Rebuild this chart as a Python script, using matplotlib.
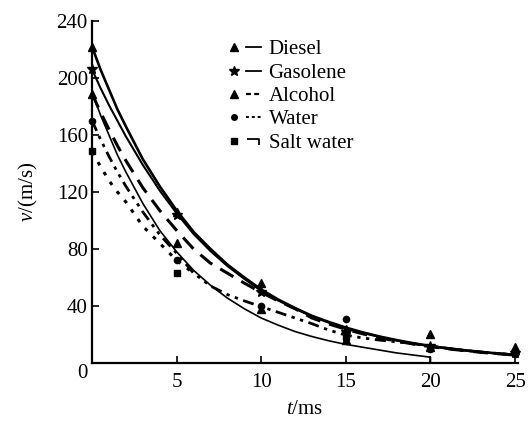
import matplotlib
matplotlib.use("Agg")
import matplotlib.pyplot as plt
import matplotlib.transforms as mtransforms
from matplotlib.lines import Line2D
from matplotlib.path import Path
from matplotlib.legend_handler import HandlerTuple

plt.rcParams["font.family"] = ["Liberation Serif", "DejaVu Serif"]
plt.rcParams["mathtext.fontset"] = "custom"
plt.rcParams["mathtext.it"] = "Liberation Serif:italic"
plt.rcParams["mathtext.rm"] = "Liberation Serif"

# time grid (ms) for the fitted curves
t = [0, 0.5, 1, 1.5, 2, 3, 4, 5, 6, 7, 8, 9, 10, 11, 12, 13, 14, 15,
     16, 17, 18, 19, 20, 21, 22, 23, 24, 25]

diesel = [222, 206, 192, 178, 166, 143, 124, 107, 92, 80, 69, 60, 51.5, 44.5,
          38.5, 33, 28.7, 24.8, 21.4, 18.5, 16, 13.8, 11.9, 10.3, 8.9, 7.7, 6.6, 5.7]
gasolene = [206, 193, 181, 170, 159, 139, 121, 105, 90.5, 78.5, 68, 59, 50.5, 43.8,
            38, 32.6, 28.2, 24.3, 21, 18.2, 15.7, 13.6, 11.7, 10.1, 8.7, 7.5, 6.5, 5.6]
alcohol = [189, 176, 164, 152.5, 142, 123, 107, 93, 80, 70, 63, 56, 49.5, 43.5,
           38, 31.5, 27.3, 23.6, 20.4, 17.6, 15.3, 13.2, 11.4, 9.9, 8.6, 7.4, 6.4, 5.5]
water = [170, 157, 145, 134, 124, 106, 90, 77, 63, 54, 48, 43.5, 39.5, 35.5,
         31.5, 27.5, 23, 19.5, 17.5, 16, 14.8, 13.4, 11.8, 10.2, 8.8, 7.6, 6.6, 5.7]

# salt water: dotted part that runs into the water curve
salt_t = [0, 0.5, 1, 1.5, 2, 3, 4, 5, 6]
salt_v = [148, 138, 128, 120, 113, 96, 84, 72, 63]

# thin solid curve ending with a hook at 20 ms
hook_t = [0, 0.5, 1, 1.5, 2, 3, 4, 5, 6, 7, 8, 9, 10, 11, 12, 13, 14, 15,
          16, 17, 18, 19, 20, 20]
hook_v = [190, 174, 160, 146, 134, 112, 93, 78, 65, 54.5, 45.5, 38, 31.5, 26.5,
          22, 18.5, 15.5, 13, 11, 9, 7, 5.5, 4, 0]

# measured points
pt_t = [0, 5, 10, 15, 20, 25]
diesel_pts = [222, 106, 56, 24, 20, 11.5]
gasolene_pts = [206, 104, 50, 22, 12, 7]
alcohol_pts = [189, 84, 38, 16, 11, 9]
water_pts = [170, 72, 40, 31, 10, 6]
salt_pts_t = [0, 5, 15]
salt_pts = [149, 63, 18]

fig = plt.figure(figsize=(5.32, 4.21), dpi=100)
ax = fig.add_axes([0.173, 0.138, 0.80, 0.812])

k = dict(color="black")
ax.plot(t, diesel, lw=1.9, **k)
ax.plot(t, gasolene, lw=1.5, **k)
ax.plot(t, alcohol, lw=2.2, dashes=(5, 3), **k)
ax.plot(t, water, lw=2.0, dashes=(4, 2, 1.2, 2, 1.2, 2), **k)
ax.plot(salt_t, salt_v, lw=2.2, dashes=(1.2, 2.6), **k)
ax.plot(hook_t, hook_v, lw=1.2, **k)

mk = dict(color="black", ls="none", clip_on=False, zorder=5)
ax.plot(pt_t, diesel_pts, marker="^", ms=6, **mk)
ax.plot(pt_t, gasolene_pts, marker="*", ms=7, **mk)
ax.plot(pt_t, alcohol_pts, marker="^", ms=6, **mk)
ax.plot(pt_t, water_pts, marker="o", ms=4.5, **mk)
ax.plot(salt_pts_t, salt_pts, marker="s", ms=5, **mk)

ax.set_xlim(0, 25.15)
ax.set_ylim(0, 240)
ax.set_xticks([5, 10, 15, 20, 25])
ax.set_yticks([0, 40, 80, 120, 160, 200, 240])
for s in ["top", "right"]:
    ax.spines[s].set_visible(False)
for s in ["left", "bottom"]:
    ax.spines[s].set_linewidth(1.6)
ax.tick_params(direction="in", length=5, width=1.2, labelsize=15)
ax.tick_params(axis="x", pad=7)
ax.tick_params(axis="y", pad=3)

# origin label sits a little below the x axis
zero = ax.get_yticklabels()[0]
zero.set_transform(zero.get_transform() +
                   mtransforms.ScaledTranslation(0, -8 / 100, fig.dpi_scale_trans))

ax.set_xlabel("$\\mathit{t}$/ms", fontsize=15, labelpad=6)
ax.set_ylabel("$\\mathit{v}$/(m/s)", fontsize=15, labelpad=12)

# legend: marker + line sample
hook_marker = Path([(-1, 0.4), (1, 0.4), (1, -0.8)])
def h(marker, ms, **line):
    m = Line2D([], [], color="black", ls="none", marker=marker, ms=ms)
    return (m, Line2D([], [], color="black", **line))

handles = [
    h("^", 6, lw=1.3),
    h("*", 7, lw=1.3),
    h("^", 6, lw=1.6, dashes=(2.2, 1.5)),
    h("o", 4, lw=1.4, dashes=(1.5, 1.5)),
    (Line2D([], [], color="black", ls="none", marker="s", ms=5),
     Line2D([], [], color="black", ls="none", marker=hook_marker, ms=8,
            markerfacecolor="none", mew=1.3)),
]
labels = ["Diesel", "Gasolene", "Alcohol", "Water", "Salt water"]
fig.legend(handles, labels, loc="upper left", bbox_to_anchor=(0.405, 0.93),
           frameon=False, fontsize=15, handlelength=1.7, handletextpad=0.35,
           labelspacing=0.18, borderpad=0,
           handler_map={tuple: HandlerTuple(ndivide=None, pad=0.2)})

fig.savefig("out.png", dpi=100)
